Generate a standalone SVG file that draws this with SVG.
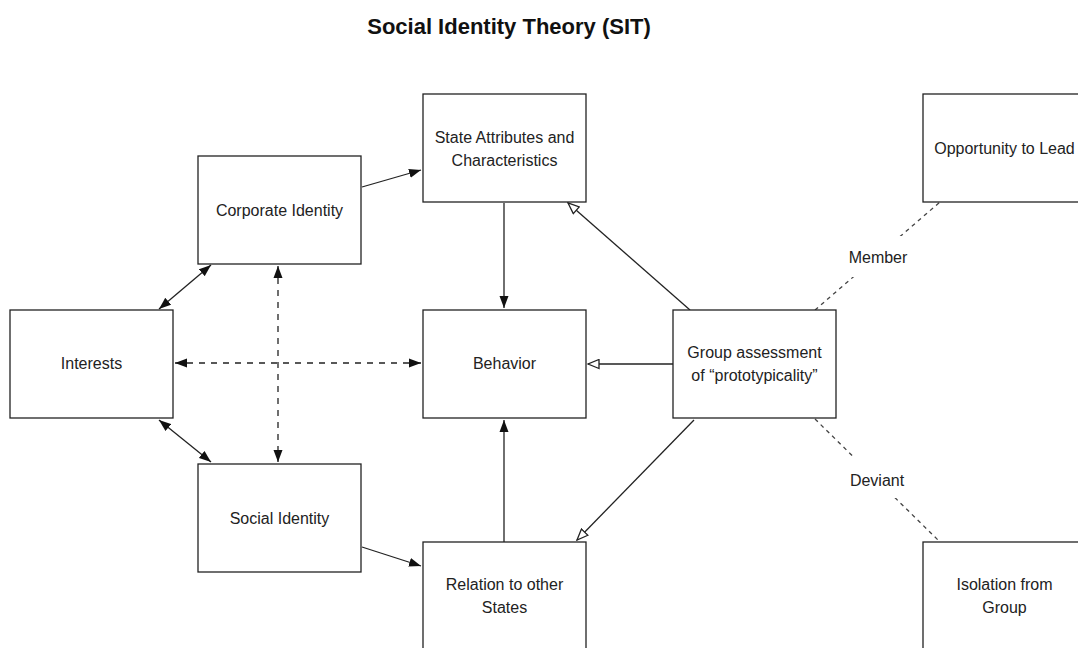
<svg xmlns="http://www.w3.org/2000/svg" width="1078" height="648" viewBox="0 0 1078 648">
<defs>
<style>
.box{fill:#fff;stroke:#222;stroke-width:1.3}
.t{font-family:"Liberation Sans",Arial,sans-serif;font-size:16px;fill:#222;text-anchor:middle}
.title{font-family:"Liberation Sans",Arial,sans-serif;font-size:22px;font-weight:bold;fill:#111;text-anchor:middle}
.c{fill:none;stroke:#222;stroke-width:1.3}
.d{fill:none;stroke:#222;stroke-width:1.3;stroke-dasharray:6 6}
.m{fill:none;stroke:#444;stroke-width:1.3;stroke-dasharray:4 4}
</style>
<marker id="fa" viewBox="0 0 12 10" refX="12" refY="5" markerWidth="12" markerHeight="10" markerUnits="userSpaceOnUse" orient="auto-start-reverse">
<path d="M0,0.5 L12,5 L0,9.5 z" fill="#111"/>
</marker>
<marker id="ha" viewBox="0 0 13 11" refX="12" refY="5.5" markerWidth="13" markerHeight="11" markerUnits="userSpaceOnUse" orient="auto">
<path d="M1,1 L12,5.5 L1,10 z" fill="#fff" stroke="#222" stroke-width="1.3"/>
</marker>
</defs>
<rect width="1078" height="648" fill="#fff"/>
<text class="title" x="509" y="34">Social Identity Theory (SIT)</text>

<g id="connectors">
<path class="c" d="M362,187 L421,170" marker-end="url(#fa)"/>
<path class="c" d="M362,547 L421,566" marker-end="url(#fa)"/>
<path class="c" d="M159,309 L211,265" marker-start="url(#fa)" marker-end="url(#fa)"/>
<path class="c" d="M159,420 L211,462" marker-start="url(#fa)" marker-end="url(#fa)"/>
<path class="d" d="M278,266 L278,462" marker-start="url(#fa)" marker-end="url(#fa)"/>
<path class="d" d="M175,363 L421,363" marker-start="url(#fa)" marker-end="url(#fa)"/>
<path class="c" d="M504,203 L504,308" marker-end="url(#fa)"/>
<path class="c" d="M504,542 L504,420" marker-end="url(#fa)"/>
<path class="c" d="M690,310 L568,203" marker-end="url(#ha)"/>
<path class="c" d="M673,364 L588,364" marker-end="url(#ha)"/>
<path class="c" d="M694,420 L577,540" marker-end="url(#ha)"/>
<path class="m" d="M815,310 L940,202"/>
<path class="m" d="M815,419 L940,542"/>
<rect x="846" y="236" width="64" height="41" fill="#fff"/>
<text class="t" x="878" y="263">Member</text>
<rect x="846" y="457" width="62" height="41" fill="#fff"/>
<text class="t" x="877" y="486">Deviant</text>
</g>

<g id="interests"><rect class="box" x="10" y="310" width="163" height="108"/><text class="t" x="91.5" y="369">Interests</text></g>
<g id="corporate-identity"><rect class="box" x="198" y="156" width="163" height="108"/><text class="t" x="279.5" y="216">Corporate Identity</text></g>
<g id="social-identity"><rect class="box" x="198" y="464" width="163" height="108"/><text class="t" x="279.5" y="524">Social Identity</text></g>
<g id="state-attributes"><rect class="box" x="423" y="94" width="163" height="108"/><text class="t" x="504.5" y="143">State Attributes and</text><text class="t" x="504.5" y="166">Characteristics</text></g>
<g id="behavior"><rect class="box" x="423" y="310" width="163" height="108"/><text class="t" x="504.5" y="369">Behavior</text></g>
<g id="relation"><rect class="box" x="423" y="542" width="163" height="108"/><text class="t" x="504.5" y="590">Relation to other</text><text class="t" x="504.5" y="613">States</text></g>
<g id="group-assessment"><rect class="box" x="673" y="310" width="163" height="108"/><text class="t" x="754.5" y="358">Group assessment</text><text class="t" x="754.5" y="381">of “prototypicality”</text></g>
<g id="opportunity"><rect class="box" x="923" y="94" width="163" height="108"/><text class="t" x="1004.5" y="154">Opportunity to Lead</text></g>
<g id="isolation"><rect class="box" x="923" y="542" width="163" height="108"/><text class="t" x="1004.5" y="590">Isolation from</text><text class="t" x="1004.5" y="613">Group</text></g>
</svg>
